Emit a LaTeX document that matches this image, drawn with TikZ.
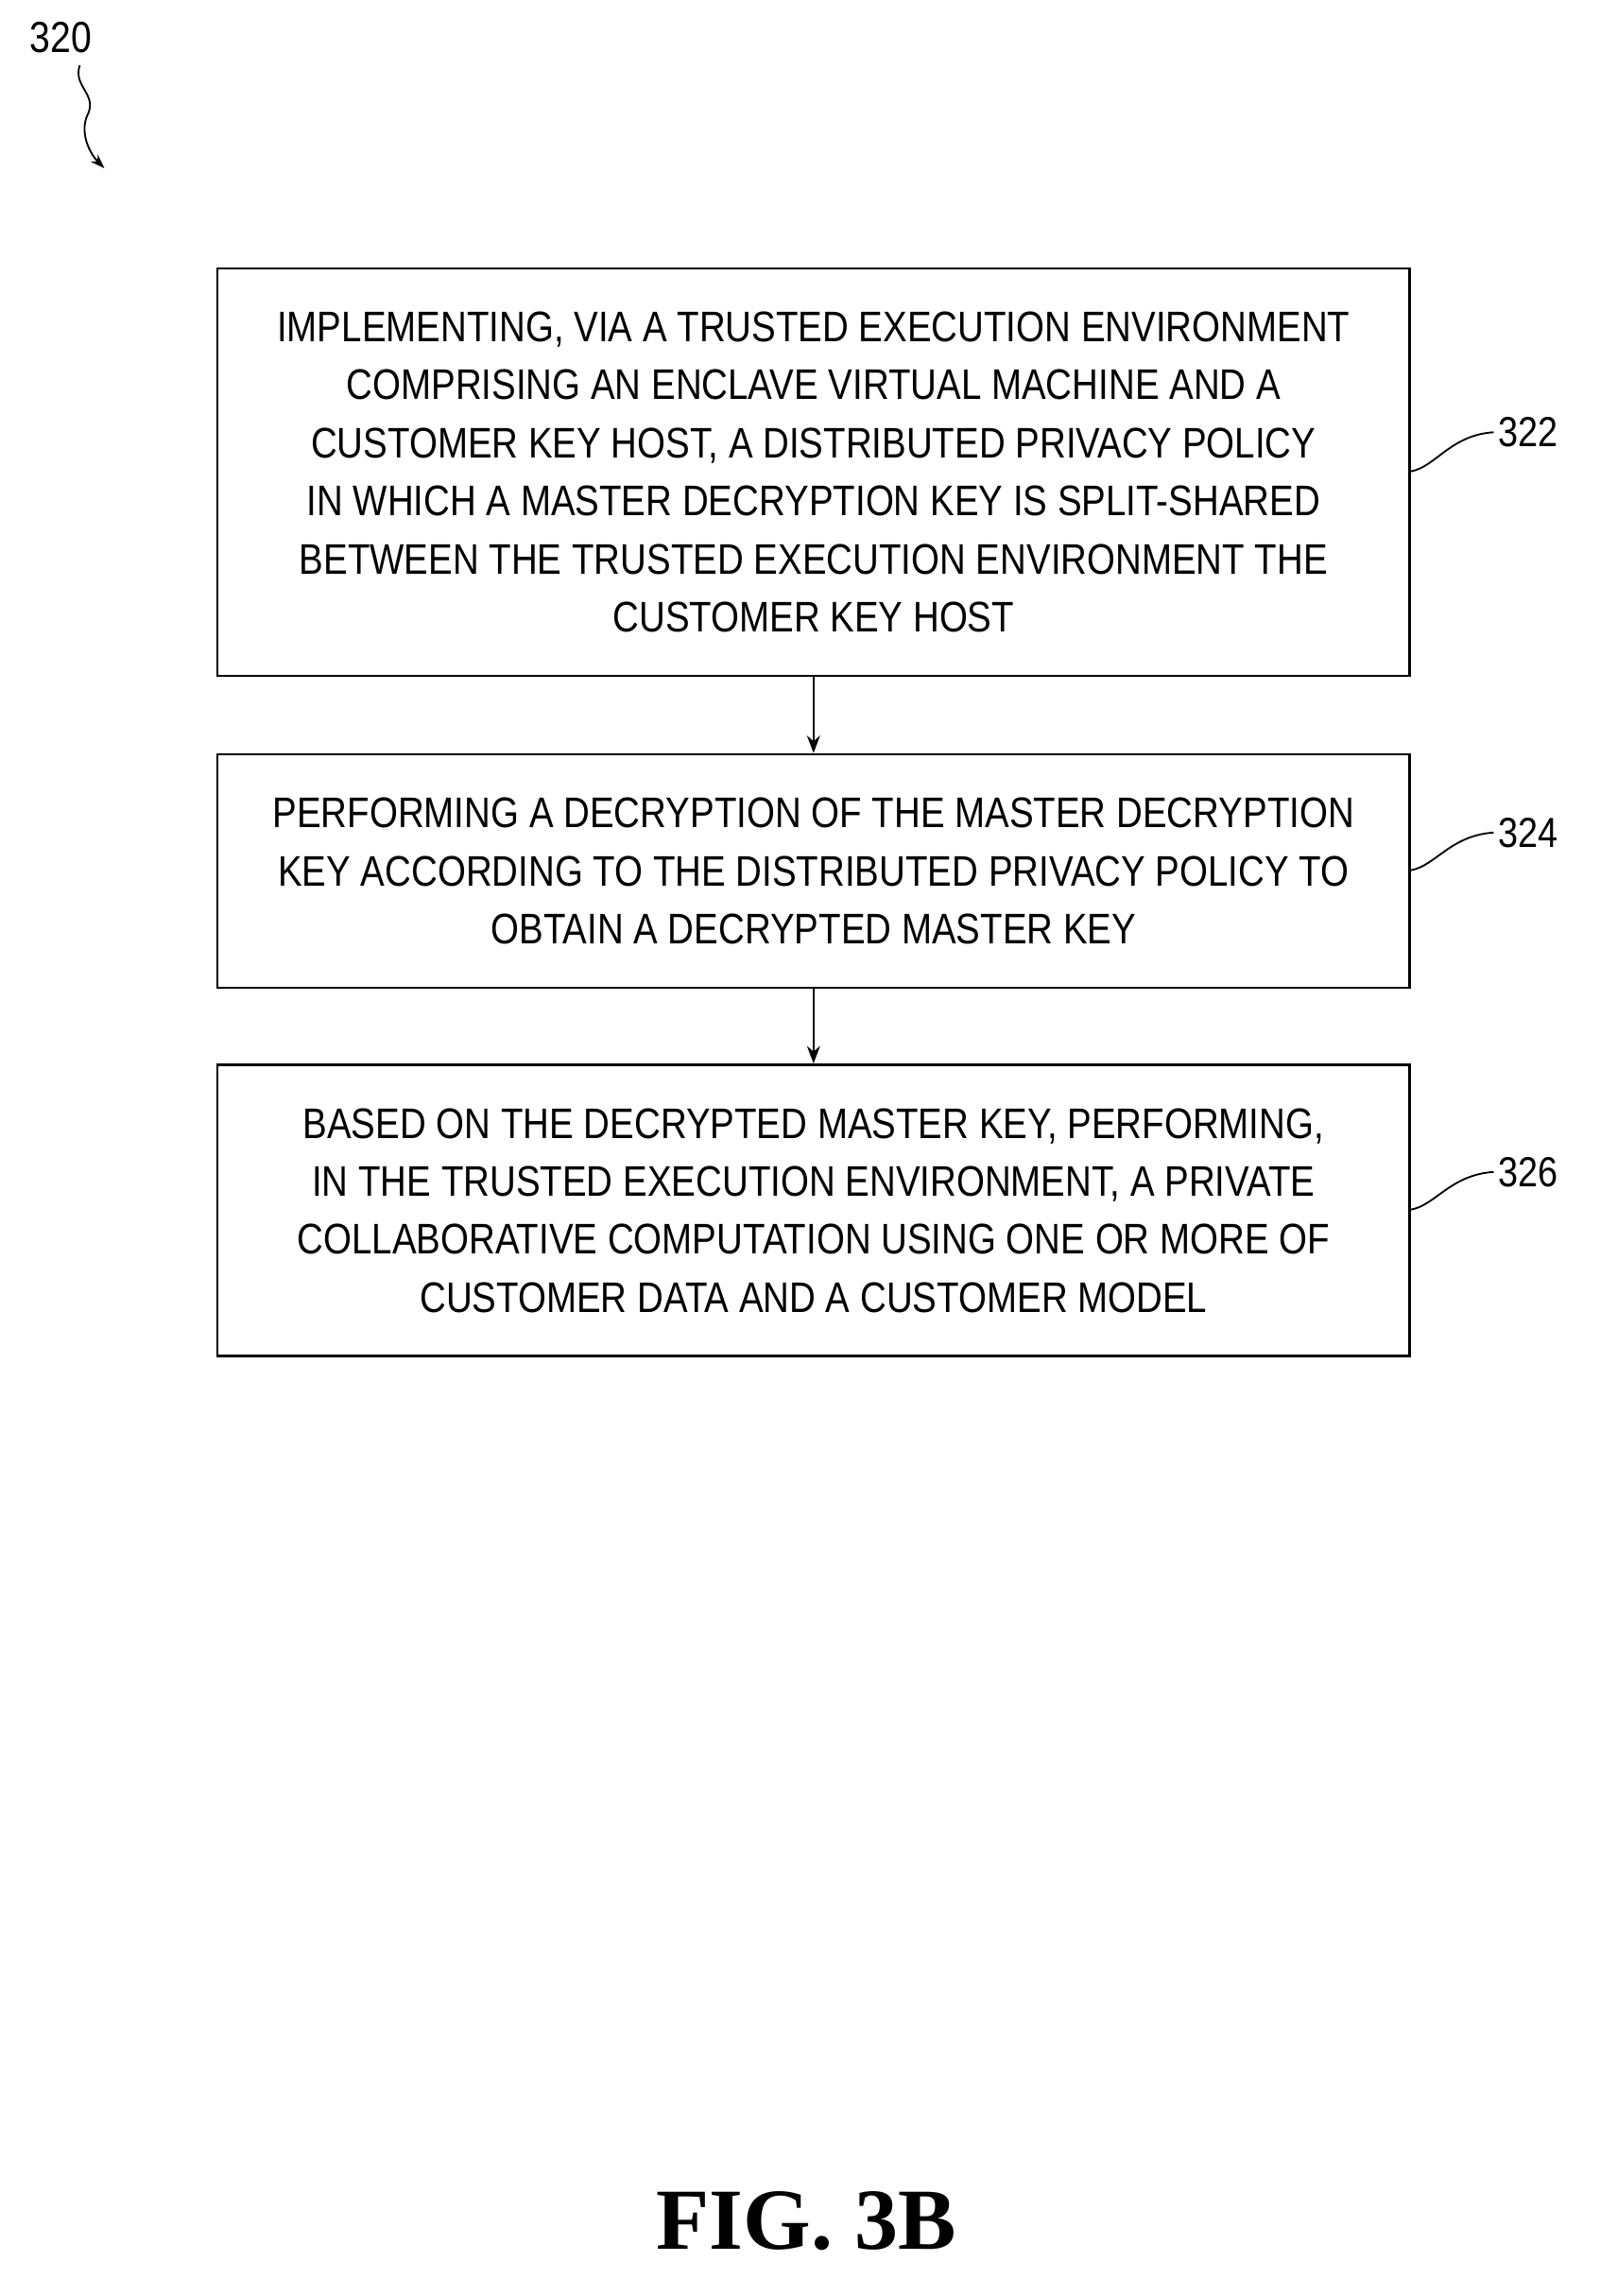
\documentclass[tikz,border=0pt]{standalone}
\usetikzlibrary{arrows.meta}
\usepackage{fontspec}
\setmainfont{Liberation Sans}[FakeStretch=0.85]
\newfontfamily\figfont{Liberation Serif}
\begin{document}
\begin{tikzpicture}[x=1pt,y=-1pt,
  box/.style={draw,line width=1.6pt,minimum width=822pt,align=center,font=\fontsize{29.5}{40}\selectfont,inner sep=0pt},
  lbl/.style={font=\fontsize{29}{30}\selectfont,anchor=west},
  arr/.style={line width=1.5pt,-{Stealth[length=12pt,width=9pt]}}]
\useasboundingbox (0,0) rectangle (1103,1583);
\node[box,minimum height=281pt] (b1) at (561,325.5) {IMPLEMENTING, VIA A TRUSTED EXECUTION ENVIRONMENT\\COMPRISING AN ENCLAVE VIRTUAL MACHINE AND A\\CUSTOMER KEY HOST, A DISTRIBUTED PRIVACY POLICY\\IN WHICH A MASTER DECRYPTION KEY IS SPLIT-SHARED\\BETWEEN THE TRUSTED EXECUTION ENVIRONMENT THE\\CUSTOMER KEY HOST};
\node[box,minimum height=161pt] (b2) at (561,600.5) {PERFORMING A DECRYPTION OF THE MASTER DECRYPTION\\KEY ACCORDING TO THE DISTRIBUTED PRIVACY POLICY TO\\OBTAIN A DECRYPTED MASTER KEY};
\node[box,minimum height=201pt] (b3) at (561,834.5) {BASED ON THE DECRYPTED MASTER KEY, PERFORMING,\\IN THE TRUSTED EXECUTION ENVIRONMENT, A PRIVATE\\COLLABORATIVE COMPUTATION USING ONE OR MORE OF\\CUSTOMER DATA AND A CUSTOMER MODEL};
\draw[arr] (b1) -- (b2);
\draw[arr] (b2) -- (b3);
\node[lbl] (l1) at (1030,298) {322};
\node[lbl] (l2) at (1030,574) {324};
\node[lbl] (l3) at (1030,808) {326};
\draw[line width=1.2pt] (b1.east |- 0,325) .. controls (990,322) and (1000,300) .. (l1.west);
\draw[line width=1.2pt] (b2.east |- 0,600) .. controls (990,597) and (1000,576) .. (l2.west);
\draw[line width=1.2pt] (b3.east |- 0,834) .. controls (990,831) and (1000,810) .. (l3.west);
\node[font=\fontsize{30}{30}\selectfont] (n320) at (42,26) {320};
\coordinate (t) at (72,116);
\draw[line width=1.2pt,-{Stealth[length=10pt,width=7pt]}] (55,45) .. controls (50,60) and (68,65) .. (60,80) .. controls (55,92) and (62,106) .. (t);
\node[font=\figfont\bfseries\fontsize{60}{62}\selectfont] (fig) at (556,1531) {FIG. 3B};
\end{tikzpicture}
\end{document}
